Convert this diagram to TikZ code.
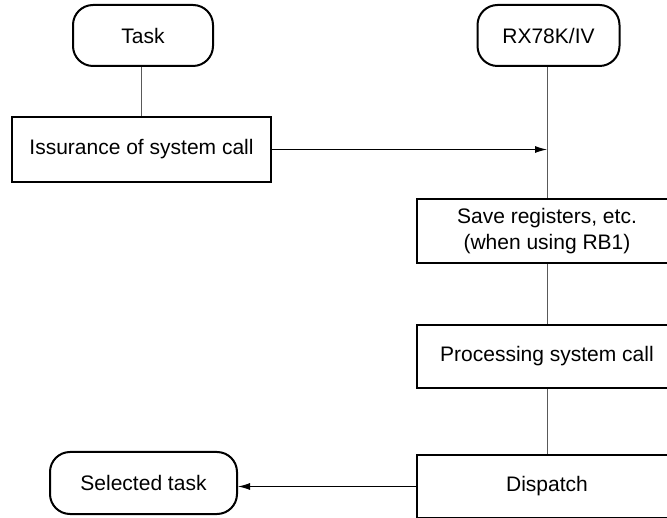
\documentclass[tikz,border=0pt]{standalone}
\usepackage{fontspec}
\setmainfont{Liberation Sans}
\usetikzlibrary{arrows.meta}

\begin{document}
\begin{tikzpicture}[x=1pt,y=-1pt,
    every node/.style={font=\fontsize{21pt}{26pt}\selectfont,inner sep=0pt},
    endbox/.style={draw,line width=2pt,rounded corners=20pt},
    stepbox/.style={draw,line width=2pt,minimum width=260pt,align=center},
    link/.style={draw=black!65,line width=1pt},
    call/.style={line width=1pt,-{Latex[length=12pt,width=7pt]}}]
    \useasboundingbox (0,0) rectangle (667,518);
    \clip (0,0) rectangle (667,518);
    % task side
    \node[endbox,minimum width=140pt,minimum height=61pt] (task) at (143,35.5) {Task};
    \node[stepbox,minimum width=259pt,minimum height=65pt] (issue) at (141.5,149.5) {Issurance of system call};
    \node[endbox,minimum width=187pt,minimum height=62pt] (sel) at (143.5,483) {Selected task};
    % RX78K/IV side
    \node[endbox,minimum width=142pt,minimum height=61pt] (rx) at (548.5,35.5) {RX78K/IV};
    \node[stepbox,minimum height=64pt] (save) at (547,231) {Save registers, etc.\\(when using RB1)};
    \node[stepbox,minimum height=63pt] (proc) at (547,356.5) {Processing system call};
    \node[stepbox,minimum height=63pt] (disp) at (547,486.5) {Dispatch};
    \coordinate (hit) at (save.north |- issue.east);
    \draw[link] (task.south -| issue.north) -- (issue.north);
    \draw[link] (rx.south -| save.north) -- (save.north);
    \draw[link] (save.south) -- (proc.north);
    \draw[link] (proc.south) -- (disp.north);
    \draw[call] (issue.east) -- (hit);
    \draw[call] (disp.west) -- (disp.west -| sel.east);
  \end{tikzpicture}
\end{document}
